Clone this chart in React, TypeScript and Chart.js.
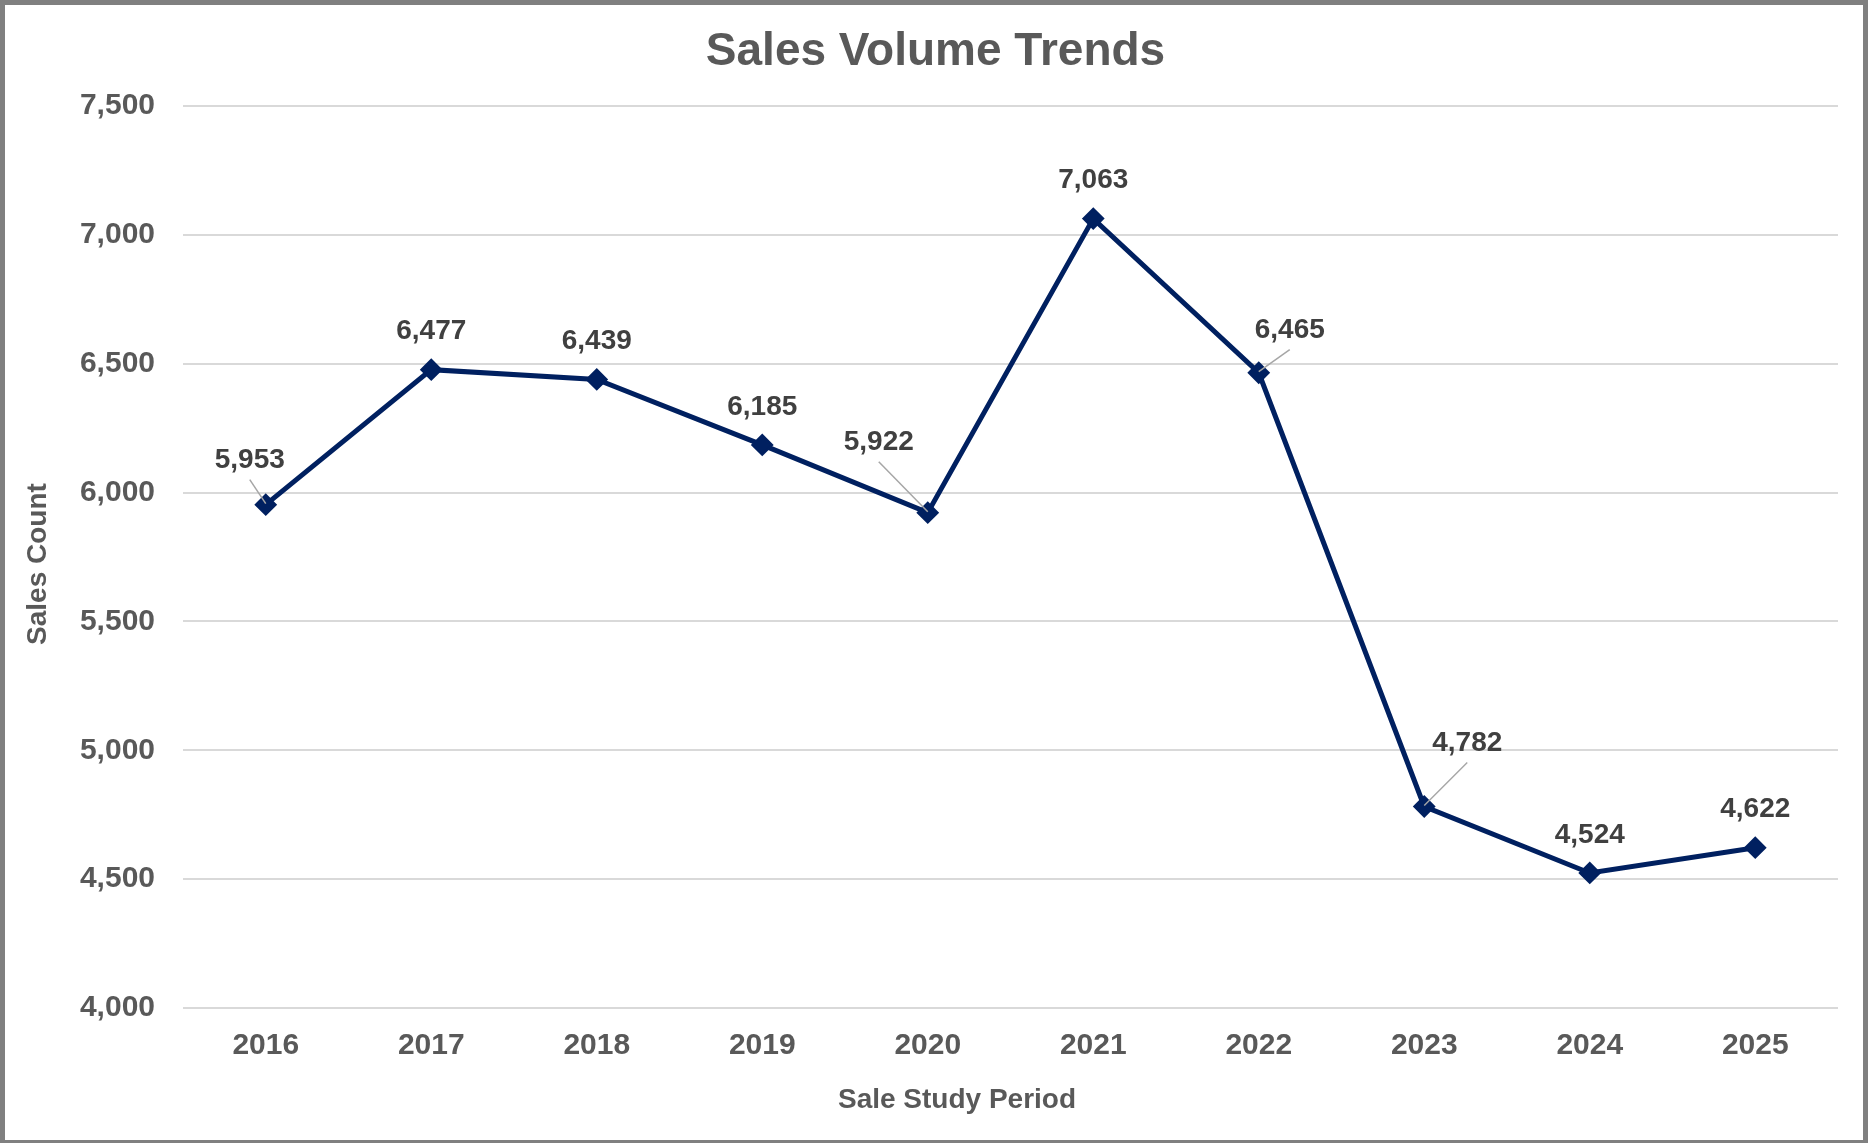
import React, { useEffect, useRef } from "react";
import { Chart, registerables } from "chart.js";

Chart.register(...registerables);

const years = ["2016", "2017", "2018", "2019", "2020", "2021", "2022", "2023", "2024", "2025"];
const salesCount = [5953, 6477, 6439, 6185, 5922, 7063, 6465, 4782, 4524, 4622];
const yMin = 4000;
const yMax = 7500;
const yStep = 500;

const chartTitle = "Sales Volume Trends";
const xTitle = "Sale Study Period";
const yTitle = "Sales Count";

const FONT = "'Liberation Sans', Arial, sans-serif";
const LINE_COLOR = "#002060";

// label placement config (offsets of label centre from point, px) — layout only
const labelPlacement: Record<number, { dx: number; dy: number; leader: boolean }> = {
  0: { dx: -16, dy: -44, leader: true },
  4: { dx: -49, dy: -70, leader: true },
  6: { dx: 31, dy: -42, leader: true },
  7: { dx: 43, dy: -63, leader: true },
};

const fmt = (v: number) => v.toLocaleString("en-US");

const labelsPlugin = {
  id: "valueLabels",
  afterDatasetsDraw(chart: any) {
    const ctx = chart.ctx;
    const meta = chart.getDatasetMeta(0);
    const data = chart.data.datasets[0].data as number[];
    ctx.save();
    meta.data.forEach((pt: any, i: number) => {
      const p = labelPlacement[i] || { dx: 0, dy: -38, leader: false };
      const lx = pt.x + p.dx;
      const ly = pt.y + p.dy;
      if (p.leader) {
        ctx.strokeStyle = "#a6a6a6";
        ctx.lineWidth = 1.5;
        ctx.beginPath();
        ctx.moveTo(lx, ly + 19);
        ctx.lineTo(pt.x, pt.y - 1);
        ctx.stroke();
      }
      ctx.fillStyle = "#404040";
      ctx.font = `bold 28px ${FONT}`;
      ctx.textAlign = "center";
      ctx.textBaseline = "middle";
      ctx.fillText(fmt(data[i]), lx, ly);
    });
    ctx.restore();
  },
};

const titlesPlugin = {
  id: "titles",
  afterDraw(chart: any) {
    const ctx = chart.ctx;
    ctx.save();
    ctx.fillStyle = "#595959";
    ctx.textAlign = "center";
    ctx.textBaseline = "middle";
    ctx.font = `bold 46px ${FONT}`;
    ctx.fillText(chartTitle, 930.5, 47);
    ctx.font = `bold 28px ${FONT}`;
    ctx.fillText(xTitle, 952, 1095);
    ctx.translate(33, 559);
    ctx.rotate(-Math.PI / 2);
    ctx.fillText(yTitle, 0, 0);
    ctx.restore();
  },
};

export default function App() {
  const ref = useRef<HTMLCanvasElement | null>(null);

  useEffect(() => {
    document.body.style.margin = "0";
    if (!ref.current) return;
    const chart = new Chart(ref.current, {
      type: "line",
      data: {
        labels: years,
        datasets: [
          {
            label: yTitle,
            data: salesCount,
            borderColor: LINE_COLOR,
            backgroundColor: LINE_COLOR,
            borderWidth: 5,
            pointStyle: "rectRot",
            pointRadius: 10,
            pointBorderWidth: 2,
            pointBackgroundColor: LINE_COLOR,
            pointBorderColor: LINE_COLOR,
            tension: 0,
          },
        ],
      },
      options: {
        animation: false,
        responsive: false,
        maintainAspectRatio: false,
        layout: { padding: { left: 0, right: 25, top: 101, bottom: 56 } },
        plugins: {
          legend: { display: false },
          tooltip: { enabled: false },
          title: { display: false },
        },
        scales: {
          x: {
            offset: true,
            grid: { display: false, drawTicks: false },
            border: { display: false },
            ticks: {
              color: "#595959",
              font: { family: FONT, size: 30, weight: "bold" },
              padding: 20,
              maxRotation: 0,
            },
          },
          y: {
            min: yMin,
            max: yMax,
            afterFit(scale: any) {
              scale.width = 178;
            },
            grid: { color: "#d9d9d9", lineWidth: 2, drawTicks: false },
            border: { display: false },
            ticks: {
              stepSize: yStep,
              color: "#595959",
              font: { family: FONT, size: 30, weight: "bold" },
              padding: 28,
              callback: (v: any) => fmt(Number(v)),
            },
          },
        },
      },
      plugins: [labelsPlugin, titlesPlugin],
    });
    return () => chart.destroy();
  }, []);

  return (
    <div
      style={{
        width: 1868,
        height: 1143,
        boxSizing: "border-box",
        borderStyle: "solid",
        borderColor: "#808080",
        borderWidth: "5px 5px 3px 5px",
        background: "#ffffff",
        overflow: "hidden",
      }}
    >
      <canvas ref={ref} width={1858} height={1135} style={{ display: "block" }} />
    </div>
  );
}
